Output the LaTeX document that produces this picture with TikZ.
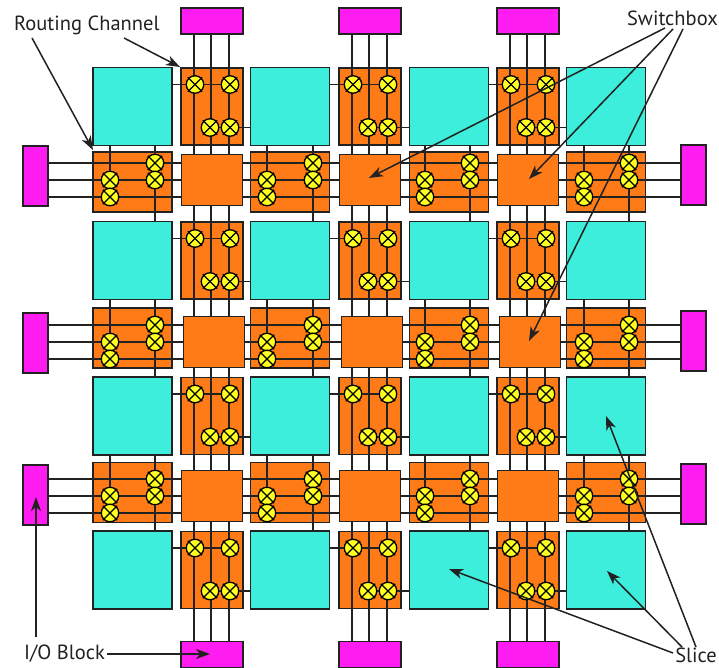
\documentclass[tikz,border=0pt]{standalone}
\usepackage{fontspec}
\setmainfont{PT Sans}
\usetikzlibrary{arrows.meta}
\definecolor{slicecol}{HTML}{3CEEDB}
\definecolor{chancol}{HTML}{FF7B17}
\definecolor{iocol}{HTML}{FF1CF0}
\definecolor{xptcol}{HTML}{FFFF20}
\definecolor{linecol}{HTML}{222222}
\tikzset{
  block/.style={draw=linecol, line width=1.7pt, minimum width=#1, inner sep=0pt, outer sep=0pt},
  slice/.style={block=79pt, minimum height=78pt, fill=slicecol},
  vchan/.style={block=62pt, minimum height=77pt, fill=chancol},
  hchan/.style={block=79pt, minimum height=60pt, fill=chancol},
  swbox/.style={block=61pt, minimum height=51pt, fill=chancol},
  iotb/.style={block=62pt, minimum height=26pt, fill=iocol},
  iolr/.style={block=25pt, minimum height=60pt, fill=iocol},
  wire/.style={draw=linecol, line width=1.7pt},
  xbar/.style={draw=black, line width=1.2pt, shorten >=-1.4pt, shorten <=-1.4pt},
  xpt/.style={circle, draw=black, line width=1.3pt, fill=xptcol, minimum size=17.5pt, inner sep=0pt, outer sep=0pt,
    append after command={(\tikzlastnode.45) edge[xbar] (\tikzlastnode.225) (\tikzlastnode.135) edge[xbar] (\tikzlastnode.315)}},
  callout/.style={-{Stealth[length=14pt,width=10pt,inset=4pt]}, draw=linecol, fill=black, line width=1.5pt},
  lbl/.style={inner sep=0pt, font=\fontsize{20.5}{24}\selectfont, text=linecol}
}
\begin{document}
\begin{tikzpicture}[x=1pt,y=-1pt]
\useasboundingbox (0,0) rectangle (719,668);
% positions
\def\colx{{132.5,290,449,606}}
\def\rowy{{106.5,260.5,416,570}}
\def\vchx{{212,370,528}}
\def\hchy{{182,338,492.5}}
\def\boxy{{180,342,496}}
\def\boxdx{{0,2,0}}
\def\xleft{{110,267,425,584}}
\def\xright{{155,313,470,629}}
\def\ioly{{176,343,495}}
\def\iory{{175,341,494}}
% slices and routing channels
\foreach \r in {0,1,2,3} \foreach \c in {0,1,2,3} {
  \pgfmathsetmacro{\px}{\colx[\c]}
  \pgfmathsetmacro{\py}{\rowy[\r]}
  \node[slice] (s\r\c) at (\px,\py) {};
}
\foreach \r in {0,1,2,3} \foreach \c in {0,1,2} {
  \pgfmathsetmacro{\px}{\vchx[\c]}
  \pgfmathsetmacro{\py}{\rowy[\r]}
  \node[vchan] (v\r\c) at (\px,\py) {};
}
\foreach \r in {0,1,2} \foreach \c in {0,1,2,3} {
  \pgfmathsetmacro{\px}{\colx[\c]}
  \pgfmathsetmacro{\py}{\hchy[\r]}
  \node[hchan] (h\r\c) at (\px,\py) {};
}
% I/O blocks
\foreach \c in {0,1,2} {
  \pgfmathsetmacro{\px}{\vchx[\c]}
  \node[iotb] (it\c) at (\px,21) {};
  \node[iotb] (ib\c) at (\px,654.5) {};
}
\foreach \r in {0,1,2} {
  \pgfmathsetmacro{\py}{\ioly[\r]}
  \node[iolr] (il\r) at (35.5,\py) {};
  \pgfmathsetmacro{\py}{\iory[\r]}
  \node[iolr] (ir\r) at (693.5,\py) {};
}
% switchbox centres, wires run behind the boxes
\foreach \r in {0,1,2} \foreach \c in {0,1,2} {
  \pgfmathsetmacro{\px}{\vchx[\c]+\boxdx[\r]}
  \pgfmathsetmacro{\py}{\boxy[\r]}
  \coordinate (bc\r\c) at (\px,\py);
}
% vertical tracks
\foreach \c in {0,1,2} \foreach \o in {-18,-1,17}
  \draw[wire] ([xshift=\o pt]it\c.south) -- ([xshift=\o pt]ib\c.north);
% horizontal tracks
\foreach \r in {0,1,2} \foreach \o in {17,0,-17}
  \draw[wire] ([yshift=\o pt]bc\r0 -| il\r.east) -- ([yshift=\o pt]bc\r0 -| ir\r.west);
% switchboxes
\foreach \r in {0,1,2} \foreach \c in {0,1,2}
  \node[swbox] (b\r\c) at (bc\r\c) {};
% crosspoints in the vertical channels
\foreach \r in {0,1,2,3} \foreach \c/\n in {0/1,1/2,2/3} {
  \node[xpt] (pa\r\c) at ([xshift=-17pt,yshift=22pt]v\r\c.center) {};
  \node[xpt] (pb\r\c) at ([xshift=18pt,yshift=22pt]v\r\c.center) {};
  \node[xpt] (pc\r\c) at ([xshift=-2pt,yshift=-21pt]v\r\c.center) {};
  \node[xpt] (pd\r\c) at ([xshift=18pt,yshift=-21pt]v\r\c.center) {};
  \draw[wire] (s\r\c.east |- pa\r\c) -- (pa\r\c);
  \draw[wire] (pa\r\c) -- (pb\r\c);
  \draw[wire] (pc\r\c) -- (pd\r\c);
  \draw[wire] (pd\r\c) -- (s\r\n.west |- pd\r\c);
}
% crosspoints in the horizontal channels
\foreach \r/\n in {0/1,1/2,2/3} \foreach \c in {0,1,2,3} {
  \pgfmathsetmacro{\pl}{\xleft[\c]}
  \pgfmathsetmacro{\pr}{\xright[\c]}
  \pgfmathsetmacro{\pm}{\boxy[\r]}
  \node[xpt] (qa\r\c) at (\pl,\pm) {};
  \node[xpt] (qb\r\c) at (\pl,\pm+17) {};
  \node[xpt] (qc\r\c) at (\pr,\pm-17) {};
  \node[xpt] (qd\r\c) at (\pr,\pm) {};
  \draw[wire] (qa\r\c |- s\r\c.south) -- (qa\r\c);
  \draw[wire] (qc\r\c |- s\r\c.south) -- (qc\r\c);
  \draw[wire] (qd\r\c) -- (qd\r\c |- s\n\c.north);
}
% labels
\node[lbl, anchor=west] (rclabel) at (14,25) {Routing Channel};
\node[lbl, anchor=east] (swlabel) at (718,18) {Switchbox};
\node[lbl, anchor=west] (iolabel) at (24,654) {I/O Block};
\node[lbl, anchor=east] (sllabel) at (717,655.5) {Slice};
% callouts
\coordinate (rcstart1) at (32,38);
\coordinate (rcstart2) at (124,38);
\coordinate (swstart1) at (665,28);
\coordinate (swstart2) at (673,29);
\coordinate (swstart3) at (683,29);
\coordinate (iostart1) at (36,637);
\coordinate (iostart2) at (107,654);
\coordinate (slstart1) at (673,653);
\coordinate (slstart2) at (682,647);
\coordinate (slstart3) at (696,647);
\coordinate (rcend1) at (93,150);
\coordinate (rcend2) at (180,67);
\coordinate (swend1) at (369,178);
\coordinate (swend2) at (529,179);
\coordinate (swend3) at (529,341);
\coordinate (ioend1) at (36,497);
\coordinate (ioend2) at (210,654);
\coordinate (slend1) at (449,569);
\coordinate (slend2) at (607,571);
\coordinate (slend3) at (606,416);
\draw[callout] (rcstart1) -- (rcend1);
\draw[callout] (rcstart2) -- (rcend2);
\draw[callout] (swstart1) -- (swend1);
\draw[callout] (swstart2) -- (swend2);
\draw[callout] (swstart3) -- (swend3);
\draw[callout] (iostart1) -- (ioend1);
\draw[callout] (iostart2) -- (ioend2);
\draw[callout] (slstart1) -- (slend1);
\draw[callout] (slstart2) -- (slend2);
\draw[callout] (slstart3) -- (slend3);
\end{tikzpicture}
\end{document}
